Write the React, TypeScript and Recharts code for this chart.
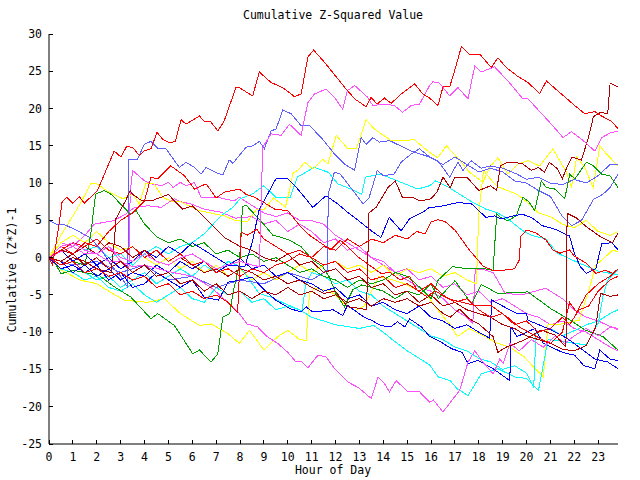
import React from 'react';
import { LineChart, Line, XAxis, YAxis } from 'recharts';

const RED = '#ff0000';
const DKRED = '#b00000';
const MAG = '#ff50ff';
const BLUE = '#0000ff';
const LTBLUE = '#6060ff';
const GREEN = '#00a000';
const YEL = '#ffff00';
const CYAN = '#00ffff';

const hourTicks = [0,1,2,3,4,5,6,7,8,9,10,11,12,13,14,15,16,17,18,19,20,21,22,23];
const valueTicks = [-25,-20,-15,-10,-5,0,5,10,15,20,25,30];
const hourDomain = [0, 23.83];
const valueDomain = [-25, 30];

type P = [number, number];

const redA: P[] = [[0,0],[0.15,-1],[0.35,3],[0.55,7.5],[0.75,8.1],[0.99,7.3],[1.27,8.2],[1.48,7.3],[2.03,9.0],[2.73,14.3],[3.01,13.5],[3.25,14.9],[3.5,14.8],[3.78,13.7],[3.99,14.3],[4.27,14.6],[4.52,16.8],[4.76,15.9],[5.04,15.4],[5.29,15.6],[5.53,18.5],[5.74,17.9],[6.3,19.0],[6.53,18.2],[6.78,18.2],[7.07,17.0],[7.32,18.2],[7.83,22.8],[7.97,22.8],[8.53,21.7],[8.81,24.9],[9.3,23.5],[9.79,22.8],[10.28,21.6],[10.56,21.95],[10.84,26.9],[11.08,27.85],[11.54,26.2],[12.38,22.85],[12.8,21.3],[13.28,20.25],[13.49,21.5],[13.74,20.6],[14.05,21.4],[14.33,20.7],[14.75,21.95],[15.31,23.3],[15.66,21.95],[15.94,21.4],[16.29,20.4],[16.5,22.9],[16.78,22.9],[16.99,25.1],[17.27,28.3],[17.62,27.2],[18.04,27.3],[18.52,25.5],[18.8,26.8],[19.15,25.5],[19.64,24.3],[20.06,23.5],[20.55,22.0],[20.83,23.7],[21.46,21.95],[22.02,20.4],[22.44,19.3],[22.86,19.6],[23.14,19.0],[23.56,18.3],[23.83,17.3]];

const magB: P[] = [[0,0],[0.5,1.5],[1,2],[1.5,1],[2,0.5],[2.5,1.5],[3,0],[3.5,-0.5],[4,0.5],[4.5,-0.5],[5,-1],[5.5,0],[6,0.5],[6.5,-0.5],[7,-1.5],[7.5,-1],[8,-0.5],[8.5,-1],[8.81,-1.2],[8.95,14.8],[9.3,16.6],[9.72,16.4],[10.07,17.9],[10.56,16.4],[10.84,20.8],[11.12,21.95],[11.6,22.6],[11.96,21.5],[12.3,19.9],[12.5,22.4],[12.8,23.1],[13.35,21.5],[13.56,20.4],[14.05,20.6],[14.47,20.4],[14.81,19.5],[15.17,20.4],[15.52,20.6],[15.94,23.1],[16.08,23.6],[16.36,23.4],[16.78,21.7],[17.13,22.8],[17.55,21.3],[17.83,25.7],[18.1,24.9],[18.66,25.6],[19.22,23.7],[19.85,21.3],[20.06,21.3],[21.04,17.9],[21.53,16.1],[21.88,16.9],[22.3,15.9],[22.86,14.3],[23.14,16.1],[23.49,16.7],[23.83,17.0]];

const ltC: P[] = [[0,5],[0.3,4.5],[0.6,4.5],[1.2,3.6],[1.7,2.7],[2.2,1],[2.6,-1],[3,-2.5],[3.3,-4],[3.33,13.2],[3.71,13.2],[3.99,15.2],[4.27,15.6],[4.55,14.7],[4.9,14.6],[5.46,12.1],[5.74,12.8],[6.09,12.1],[6.37,11.2],[6.58,12.1],[7.07,11.3],[7.28,11.1],[7.55,13.1],[7.7,12.65],[7.97,13.7],[8.25,14.8],[8.53,15.0],[8.81,15.6],[9.02,14.6],[9.3,17.0],[9.51,17.25],[9.79,19.8],[10.14,19.3],[10.56,17.7],[10.91,17.7],[11.4,16.1],[11.96,13.9],[12.38,12.55],[12.8,11.7],[13.07,16.1],[13.28,15.2],[13.56,16.1],[13.84,15.5],[14.26,15.7],[15.17,14.3],[15.94,13.5],[16.29,13.0],[16.78,10.8],[17.13,12.8],[17.34,11.7],[17.68,13.0],[18.1,12.0],[18.5,12.3],[19.0,12.0],[19.6,11.2],[20.0,10.5],[20.5,10.8],[21.0,10.0],[21.5,9.8],[22.0,10.5],[22.5,10.0],[23.0,11.0],[23.5,12.5],[23.83,12.5]];

const ltD: P[] = [[0,0],[1,-1],[2,-0.5],[3,-2],[4,-1],[5,-3],[6,-2.5],[7,-4],[8,-3],[9,-3.5],[10,-2],[11,-3],[11.65,-1.7],[11.7,8.6],[11.95,11.45],[12.2,11.2],[12.85,8.5],[13.15,7.2],[13.4,8],[13.75,11.7],[14.0,11.0],[14.45,11.2],[14.75,12.8],[15.17,13.9],[15.52,14.6],[15.94,13.5],[16.5,12.5],[17.0,13.5],[17.5,12.5],[18.0,11.5],[18.5,12],[19.0,11.5],[19.5,10.3],[20.0,10.0],[20.5,9.0],[21.0,8.2],[21.5,5.5],[21.9,4.3],[22.3,5.0],[22.8,7.8],[23.2,8.5],[23.5,9.4],[23.83,11.2]];

const yelE: P[] = [[0,0],[0.5,3],[1,5.6],[1.3,7.2],[1.75,9.9],[2.0,9.9],[2.5,8.8],[3.1,7.9],[3.5,8.5],[3.78,7.2],[4.05,9.9],[4.4,9.9],[4.76,8.1],[5.1,7.6],[5.5,7.5],[6.3,6.3],[7.35,5.6],[7.8,5.0],[8.3,4.8],[8.7,6.5],[9.0,6.4],[9.4,8.0],[9.9,6.8],[10.08,9.1],[10.22,11.3],[10.49,11.9],[10.7,12.8],[11.05,11.9],[11.47,13.2],[11.68,12.55],[12.03,16.4],[12.52,14.6],[12.87,14.6],[13.28,18.5],[13.63,17.25],[14.33,15.7],[15.31,15.8],[15.94,14.1],[16.28,13.4],[16.64,15.0],[17.27,12.8],[17.6,11.5],[18.17,10.1],[18.45,12.1],[18.8,13.4],[19.22,11.2],[19.64,12.55],[20.06,13.0],[20.55,12.3],[21.1,14.6],[21.67,11.45],[21.88,9.4],[22.1,13.5],[22.44,12.1],[22.79,9.4],[23.07,15.0],[23.35,13.9],[23.83,12.3]];

const magF: P[] = [[0,0],[0.5,0.8],[1,1.5],[1.5,0.5],[2,0.5],[2.5,-0.5],[3,-0.5],[3.5,-1.2],[4,-1],[4.6,-1.5],[5.2,-2],[6,-2.5],[6.75,-3.9],[7.48,-5.95],[7.97,-7.5],[8.3,-8.9],[8.74,-9.3],[9.16,-10.65],[9.58,-11.5],[10.0,-12.7],[10.35,-14.0],[10.56,-13.9],[10.84,-14.8],[11.26,-13.1],[11.6,-13.3],[11.96,-14.9],[12.52,-16.7],[12.94,-17.4],[13.5,-18.9],[13.78,-16.0],[14.05,-16.9],[14.26,-18.0],[14.54,-16.5],[15.03,-18.0],[15.52,-18.0],[15.94,-19.4],[16.1,-19.1],[16.5,-20.7],[17.2,-17.8],[17.55,-14.0],[17.83,-12.5],[18.17,-14.0],[18.6,-15.6],[18.88,-13.6],[19.02,-14.2],[19.3,-11.5],[19.7,-12.5],[20.2,-11.0],[20.7,-12],[21.2,-10.5],[21.6,-11.5],[22.0,-10.5],[22.5,-9.5],[23.0,-10.5],[23.5,-9.3],[23.83,-9.5]];

const grnG: P[] = [[0,0],[0.3,-1],[0.5,-2.15],[1.05,-1.7],[2.1,-2.4],[2.73,-3.9],[3.43,-5.3],[4.27,-8.2],[4.55,-7.5],[5.25,-9.1],[6.02,-12.9],[6.3,-12.4],[6.79,-14.0],[7.07,-12.9],[7.28,-8.0],[7.57,-7.5],[7.7,-4.8],[7.97,-1],[8.1,6.8],[8.25,7.05],[8.96,4.6],[9.38,3.0],[9.66,2.8],[10.07,2.35],[10.56,1.45],[11.04,-0.3],[11.46,-1.2],[11.74,-2.6],[12.02,-4.8],[12.37,-6.6],[12.73,-4.3],[13.1,-3.65],[13.5,-4],[14,-4.5],[14.5,-5.5],[15,-4.5],[15.5,-5],[16,-3.5],[16.3,-5.5],[17,-3.1],[17.7,-6.2],[18.1,-3.6],[18.8,-4.8],[20.06,-4.6],[21.04,-6.9],[21.74,-8.2],[22.44,-9.7],[23.2,-10.6],[23.83,-12.4]];

const grnJ: P[] = [[0,0],[0.5,-1],[1,-0.5],[1.5,-1],[1.75,3.2],[1.95,8.5],[2.3,9.0],[2.6,8.5],[3.0,7.2],[3.4,5.85],[3.65,6.3],[4.0,4.5],[4.55,2.7],[5,2],[5.5,2.5],[6,1.5],[6.5,2],[7,0.5],[7.5,1],[8,0],[8.5,0.5],[9,-0.5],[9.5,0],[10,-1],[10.5,-2],[11,-1.5],[11.5,-2.5],[12,-3],[12.5,-4],[13,-3],[13.5,-3.5],[14,-3],[14.5,-2],[15,-2.5],[15.5,-3.9],[16.0,-5.5],[16.3,-3.0],[16.9,-1.2],[17.5,-1.5],[18.1,-1.4],[18.6,-1.7],[18.75,5.85],[18.9,5.4],[19.22,4.95],[19.57,5.6],[19.85,8.1],[20.1,7.5],[20.34,6.3],[20.62,10.3],[20.83,9.4],[21.18,9.2],[21.6,7.9],[21.81,11.2],[22.02,10.55],[22.51,12.8],[22.8,12.3],[23.14,11.2],[23.49,11.0],[23.83,9.4]];

const drH: P[] = [[0,0],[0.5,1],[1,0.5],[1.5,1.5],[2,0.5],[2.5,2],[3,1.5],[3.5,0],[4,1],[4.5,-0.5],[5,-1],[5.5,0],[6,-1],[6.5,-2],[7,-1.5],[7.5,-2.5],[8,-1.5],[8.5,-2],[9,-3],[9.5,-2.5],[10,-3.5],[10.5,-3],[11,-4],[11.5,-4.8],[12,-4.5],[12.5,-6.6],[13,-6.8],[13.3,-7],[13.4,6],[13.7,6.75],[14.2,9.4],[14.5,10.3],[14.8,8.1],[15.2,8.1],[15.55,7.6],[16.0,7.9],[16.25,8.8],[16.5,10.8],[16.8,9.4],[17.0,10.8],[17.5,10.8],[18.0,9.0],[18.5,9.65],[18.75,9.0],[18.9,12.3],[19.2,12.8],[19.5,12.8],[19.85,12.55],[20.2,11.7],[20.5,12.1],[20.75,11.45],[20.95,12.8],[21.3,11.9],[21.5,10.6],[21.7,12.2],[21.9,13.5],[22.3,13.1],[22.6,16.2],[22.8,18.9],[23.1,19.5],[23.4,19.3],[23.5,23.4],[23.83,22.9]];

const drK: P[] = [[0,0],[0.5,-0.5],[1,0.5],[1.5,-1],[2,0],[2.5,-1.5],[3,-0.5],[3.5,-2],[4,-1],[4.5,-2.5],[5,-2],[5.5,-3.5],[6,-3],[6.5,-4.5],[7,-3.5],[7.5,-5],[8,-4.5],[8.5,-5.5],[9,-4.5],[9.5,-5],[10,-4],[10.5,-5],[11,-4.5],[11.5,-5.5],[12,-5],[12.5,-6],[13,-5.5],[13.5,-6.5],[14,-5.5],[14.5,-6],[15,-5.5],[15.5,-6.5],[16,-6],[16.5,-7.5],[16.8,-8.0],[17.2,-6.9],[17.6,-8.2],[18.0,-8.9],[18.6,-10.6],[18.8,-12.7],[19.15,-12.0],[19.57,-11.5],[20.0,-10.9],[20.6,-9.7],[21.2,-10.4],[21.65,-12.0],[21.7,5.95],[22.1,5.3],[22.5,4.15],[23.1,2.8],[23.6,2.0],[23.83,3.3]];

const drM: P[] = [[0,0],[0.5,-1],[1,0],[1.5,-0.5],[2,-1.5],[2.6,-2],[2.75,2.7],[2.8,5.2],[3.2,7.6],[3.4,9.0],[3.5,8.5],[3.9,7.6],[4.27,7.6],[4.7,8.1],[5.0,8.5],[5.25,7.6],[5.6,6.5],[6.0,6.95],[6.37,5.85],[6.65,4.95],[7.07,3.6],[7.35,2.7],[8,1.5],[8.5,1],[9,0],[9.5,-0.5],[10,0.5],[10.5,-1],[11,-0.5],[11.5,-2],[12,-1.5],[12.5,-3],[13,-2.5],[13.5,-4],[14,-3.5],[14.5,-5],[15,-4.5],[15.5,-6],[16,-5],[16.5,-6.5],[17,-6],[17.5,-7],[18,-7.5],[18.5,-8],[19,-9],[19.5,-9.5],[20,-10.5],[20.5,-11],[21,-11.5],[21.5,-12.3],[22,-12.5],[22.5,-11.8],[22.9,-9.3],[23.1,-4.8],[23.5,-5.2],[23.83,-5.0]];

const redN: P[] = [[0,0],[0.5,1.5],[1,0.5],[1.5,2],[2,1.5],[2.5,3.5],[3,5],[3.5,6],[4,7.6],[4.27,10.8],[4.55,10.55],[5.1,12.3],[5.67,11.0],[6.09,9.2],[6.58,9.9],[7.0,8.0],[7.35,8.8],[7.97,9.2],[8.25,8.5],[8.6,8.1],[9.0,7.4],[9.45,6.5],[10.0,6.3],[10.5,4.3],[10.84,3.2],[11.0,2.8],[11.8,1.05],[12.2,2.35],[12.5,1.5],[12.9,0.2],[13.5,-1.2],[13.9,-2.1],[14.3,-2.0],[14.7,-3.0],[15.1,-2.5],[15.4,-4.3],[15.8,-5.2],[16.2,-4.5],[16.7,-5.5],[17.3,-6.0],[17.8,-6.4],[18.5,-6.4],[19.2,-8.0],[19.7,-9.3],[20.2,-10.2],[20.6,-10.9],[21.0,-11.5],[21.5,-10],[21.8,-6],[22.1,-7.3],[22.5,-5],[23,-3.5],[23.5,-2.5],[23.83,-1.5]];

const redP: P[] = [[0,0],[0.5,-1],[1,-0.5],[1.5,-2],[2,-1.5],[2.5,-2.5],[3,-2],[3.5,-3],[4,-2.5],[4.5,-4],[5,-3.5],[5.5,-5],[6,-4.5],[6.5,-5.5],[7,-5],[7.5,-6],[7.9,-7.4],[8.05,3.4],[8.3,3.0],[8.7,3.8],[9.0,2.5],[9.5,1.5],[10,0.5],[10.5,1],[11,0],[11.5,-1],[12,-0.5],[12.5,-2],[13,-1.5],[13.5,-3],[14,-2.5],[14.5,-4],[15,-3.5],[15.5,-4.5],[16,-3.5],[16.5,-5],[17,-6],[17.5,-5.5],[18,-7],[18.5,-8],[19,-7.5],[19.5,-9],[20,-8.5],[20.5,-10],[21,-9.5],[21.5,-8],[21.8,-9],[22.2,-7],[22.6,-6.5],[23,-4.5],[23.5,-3],[23.83,-2.5]];

const redQ: P[] = [[0,0],[0.5,1],[1,2],[1.5,1.5],[2,2.5],[2.5,1],[3,0.5],[3.5,1.5],[4,0],[4.5,1],[5,-0.5],[5.5,0.5],[6,-1],[6.5,-0.5],[7,-2],[7.5,-1.5],[8,-2.5],[8.5,-1.5],[9,-2],[9.5,-1],[10,-0.5],[10.5,0.5],[11,0],[11.5,1.5],[12,1],[12.5,2.5],[13,1.5],[13.5,2.5],[14,2],[14.5,3],[15,2.5],[15.4,3.5],[15.75,3.2],[16.0,4.8],[16.3,5.1],[16.6,4.8],[17.0,3.7],[17.6,1.05],[18.2,-1.2],[18.6,-1.7],[19.0,-1.7],[19.5,-1.5],[19.7,-0.3],[19.75,2.8],[20.0,3.7],[20.4,3.3],[20.8,2.4],[21.1,1.05],[21.4,0.6],[21.8,1.05],[22.0,0.2],[22.5,-0.75],[22.9,-2.1],[23.3,-1.7],[23.6,-2.1],[23.83,-1.6]];

const bluR: P[] = [[0,0],[0.5,-1.5],[1,-1],[1.5,-2],[2,-1],[2.5,-3],[3,-2],[3.5,-4],[4,-3.5],[4.5,-2],[5,-3],[5.5,-4],[6,-3],[6.5,-5.3],[7.1,-5.7],[7.5,-3.3],[8,-3],[8.5,-2.6],[9.1,-4.6],[9.5,-5.7],[10.1,-6.85],[10.56,-7.3],[10.77,-6.6],[11.05,-7.3],[11.9,-7.0],[12.3,-7.75],[12.5,-6.4],[13.2,-8.0],[13.5,-8.4],[13.9,-9.1],[14.3,-9.3],[14.6,-8.6],[14.9,-9.3],[15.1,-8.2],[15.6,-9.3],[15.95,-10.6],[16.3,-11.1],[16.85,-12.2],[17.3,-12.7],[17.55,-14.2],[17.97,-13.8],[18.6,-14.9],[19.3,-16.5],[19.35,-9.3],[19.6,-10.6],[20.35,-9.5],[20.7,-11.5],[21.5,-12.7],[22.02,-13.1],[22.4,-14.5],[22.86,-14.9],[23.07,-12.4],[23.49,-13.6],[23.83,-13.8]];

const bluR2: P[] = [[0,0],[0.5,1],[1,-0.5],[1.5,0.5],[2,-1],[2.5,0],[3,-1.5],[3.5,-0.5],[4,1],[4.5,0],[5,1.5],[5.5,0.5],[6,2],[6.5,1],[7,0],[7.5,-1],[8,-0.1],[8.5,-1.5],[9,-1],[9.5,-2.5],[10,-2],[10.5,-3],[11,-3.5],[11.5,-4.5],[12,-4],[12.5,-5.5],[13,-5],[13.5,-6.5],[14,-6],[14.5,-7],[15,-7.5],[15.5,-6.5],[16,-8],[16.5,-8.5],[17,-9.5],[17.5,-9],[18,-10],[18.45,-10.8],[18.55,-5.7],[19.0,-6.5],[19.6,-7.5],[20.0,-7.5],[20.06,-8.4],[21.04,-9.7],[21.74,-10.9],[22.2,-12.0],[22.86,-13.6],[23.4,-14.0],[23.83,-14.9]];

const bluS: P[] = [[0,0],[0.5,-0.5],[1,-2],[1.5,-1],[2,-2.5],[2.5,-1.5],[3,-3],[3.5,-2],[4,-2.5],[4.5,-1],[5,-2],[5.5,-0.5],[6,-1.5],[6.5,-0.5],[7,-2],[7.5,-1],[8.2,-1.2],[8.5,1.9],[8.8,6.4],[9.5,10.55],[10.0,10.55],[10.3,9.65],[10.7,8.1],[11.05,6.75],[11.6,8.3],[12.1,7.2],[12.5,6.1],[12.95,5.0],[13.5,3.6],[13.9,2.7],[14.25,5.4],[14.75,3.6],[15.1,5.2],[15.66,6.1],[15.94,6.75],[16.1,6.75],[16.5,6.95],[17.13,7.4],[17.7,7.2],[18.3,5.4],[18.66,5.6],[18.94,5.2],[19.8,5.85],[20.2,5.4],[20.65,4.3],[21.2,3.8],[21.8,2.9],[22.0,0.6],[22.25,-1.2],[22.5,-2.1],[22.9,-1.5],[23.15,1.85],[23.57,2.0],[23.83,1.05]];

const cyaU: P[] = [[0,0],[0.5,-1],[1,-0.5],[1.5,-2],[2,-3],[2.5,-2.5],[3,-4],[3.5,-3],[4,-2],[4.5,-3.5],[5,-2.5],[5.5,-1.5],[6,-2.5],[6.5,-1],[7,-2],[7.5,-0.5],[8,-1.2],[8.8,-4.8],[9.3,-5.3],[9.9,-6.2],[10.5,-7],[11,-8],[11.5,-8.5],[12,-9],[13.0,-9.5],[13.6,-9.1],[14.0,-10],[14.5,-11.3],[15,-12.5],[15.5,-13.5],[15.94,-14.4],[16.3,-16.0],[16.8,-16.5],[17.1,-17.6],[17.55,-18.5],[18.1,-15.6],[18.8,-14.9],[19.5,-16],[20,-16.2],[20.5,-17.8],[20.9,-11.0],[21.5,-11.2],[22.0,-11.5],[22.5,-11.7],[23.0,-8.8],[23.2,-5.2],[23.4,-3.0],[23.83,-1.6]];

const cyaV: P[] = [[0,0],[0.5,1.5],[1,2],[1.5,1],[2,1.5],[2.5,0],[3,0.5],[3.5,-1],[4,0.5],[4.5,1.5],[5,0.5],[5.5,1.5],[6,2],[6.5,3.2],[7.2,5.6],[7.7,6.75],[8,7.9],[8.5,8.5],[9.0,9.65],[9.5,8.1],[10.1,8.1],[10.4,10.8],[11.1,12.1],[11.7,11.45],[12.1,9.9],[12.65,9.2],[13.1,8.5],[13.25,10.8],[13.9,11.2],[14.9,9.9],[15.45,9.2],[15.94,9.65],[16.2,10.3],[16.7,9.5],[17.2,8.5],[17.7,7.5],[18.3,6.5],[18.8,6.0],[19.3,5.0],[19.8,3.7],[20.2,3.0],[20.8,2.5],[21.3,0.6],[21.9,-0.3],[22.4,-1.0],[23.0,-1.8],[23.83,-2.3]];

const cyaW: P[] = [[0,0],[0.5,-1.5],[1,-2],[1.5,-3],[2,-2.5],[2.5,-4],[3,-4.5],[3.5,-3.5],[4,-5],[4.5,-6],[5,-5],[5.5,-4],[6,-5.5],[6.5,-6],[7,-4],[7.5,-5],[8,-4.5],[8.5,-6],[9,-5.5],[9.5,-7],[10,-6.5],[10.6,-7.1],[10.75,-3.6],[11,-2],[11.5,-2.5],[12,-3.5],[12.5,-3],[13,-4.5],[13.5,-5],[14,-6.5],[14.5,-7.5],[15,-8.5],[15.5,-9.5],[16,-10.5],[16.5,-11],[17,-12],[17.5,-12.5],[18,-13.5],[18.5,-14],[19,-15],[19.5,-14.5],[20,-15.5],[20.3,-17.4],[20.4,-10],[21,-9.5],[21.5,-10.5],[22,-9.8],[22.5,-9],[23,-8.5],[23.5,-7.5],[23.83,-7]];

const yelX: P[] = [[0,0],[0.5,-1.65],[1.3,-3.0],[2,-3.5],[2.5,-4.5],[3.15,-5.7],[4.13,-6.0],[4.83,-5.5],[5.5,-7.5],[6.3,-9.1],[6.8,-8.9],[7.5,-10.2],[7.97,-11.5],[8.4,-9.75],[9.0,-12.4],[9.58,-10.6],[10.0,-9.75],[10.5,-11],[10.77,-11.1],[10.91,-4.8],[11.13,-4.1],[11.8,-4.5],[12.3,-6],[12.8,-7.1],[13.2,-6.5],[13.8,-2.55],[14.4,-3],[14.9,-3.5],[15.5,-4.5],[15.94,-5.5],[16.3,-7.1],[16.8,-9],[17.1,-10.6],[17.6,-9.5],[18.2,-10.5],[18.8,-11.5],[19.3,-12],[19.9,-13.3],[20.3,-14.7],[20.7,-16.0],[20.9,-9.0],[21.3,-9.0],[22.2,-8.4],[22.6,-4.5],[22.9,-1.0],[23.3,0.1],[23.6,1.0],[23.83,0.8]];

const yelY: P[] = [[0,0],[0.5,2],[1,3],[1.5,2],[2,3.5],[2.5,2],[3,1],[3.5,1.5],[4,0],[4.5,-1],[5,0],[5.5,-1.5],[6,-0.5],[6.5,-2],[7,-1],[7.5,-2.5],[8,-1.5],[8.5,-3],[9,-2],[9.5,-3],[10,-2],[10.5,-1],[11,-2],[11.5,-1],[12,-0.5],[12.5,-1.5],[13,-1],[13.5,-2],[14,-1],[14.5,-2.5],[15,-1.5],[15.5,-2],[16,-1.5],[16.5,-2.5],[17,-2],[17.5,-3],[17.9,-3.5],[18.0,6],[18.2,11.7],[18.5,10.5],[18.8,9.5],[19.2,9],[19.6,8.5],[20,7.5],[20.5,6],[21,5.5],[21.5,4.5],[22,4],[22.5,5],[23,3.5],[23.5,3],[23.83,3.5]];

const magB1: P[] = [[0,0],[0.5,1],[1,2],[1.5,1],[2,0.5],[2.5,1.5],[3,-0.5],[3.35,-1.3],[3.4,8.7],[3.5,11.7],[4.0,10.3],[4.3,9.9],[4.7,9.65],[5.0,10.1],[5.2,9.4],[5.5,10.1],[5.74,9.65],[6.09,10.1],[6.37,8.1],[7.2,8.0],[7.76,7.6],[7.97,8.1],[8.5,7],[9,6],[9.5,5.5],[10,6],[10.5,5],[11.0,4.95],[11.5,4.5],[12,3],[12.5,2],[13,1],[13.5,0],[14,-1],[14.5,-2],[15,-3],[15.5,-4],[16,-4.5],[16.5,-5.5],[17,-7],[17.5,-8],[17.75,-8.8],[17.85,-1.6],[18.2,-1.6],[18.6,-2],[19.1,-4.8],[19.8,-5],[20.8,-4.1],[21.5,-5.5],[22,-7],[22.5,-8],[23,-8.5],[23.83,-9.7]];

const magB2: P[] = [[0,0],[0.5,2],[1,1.5],[1.5,3],[1.9,4.5],[2.7,4.95],[3.2,5.8],[3.6,6.75],[4.15,6.95],[4.7,6.75],[5.25,7.9],[5.5,7.5],[5.95,7.2],[6.5,6.5],[7.2,6.1],[7.8,5.3],[8.5,5.5],[9,4.5],[9.5,5],[10,3.5],[10.5,4.5],[11,3.5],[11.5,2],[12,2.5],[12.5,1],[13,1.5],[13.5,0],[14,-0.5],[14.5,-2],[15,-1.5],[15.5,-3],[16,-2.5],[16.5,-4],[17,-3.5],[17.5,-5],[18,-4.5],[18.5,-6],[19,-5.5],[19.5,-6.5],[20,-7.5],[20.5,-8],[21,-9],[21.5,-8.5],[22,-9.5],[22.5,-10],[23,-11],[23.5,-12],[23.83,-12.5]];

const seriesList: { key: string; color: string; pts: P[] }[] = [
  { key: 'magB2', color: MAG, pts: magB2 },
  { key: 'magB1', color: MAG, pts: magB1 },
  { key: 'yelY', color: YEL, pts: yelY },
  { key: 'yelX', color: YEL, pts: yelX },
  { key: 'cyaW', color: CYAN, pts: cyaW },
  { key: 'cyaV', color: CYAN, pts: cyaV },
  { key: 'cyaU', color: CYAN, pts: cyaU },
  { key: 'yelE', color: YEL, pts: yelE },
  { key: 'ltD', color: LTBLUE, pts: ltD },
  { key: 'ltC', color: LTBLUE, pts: ltC },
  { key: 'grnG', color: GREEN, pts: grnG },
  { key: 'grnJ', color: GREEN, pts: grnJ },
  { key: 'bluR2', color: BLUE, pts: bluR2 },
  { key: 'bluR', color: BLUE, pts: bluR },
  { key: 'bluS', color: BLUE, pts: bluS },
  { key: 'magF', color: MAG, pts: magF },
  { key: 'drM', color: DKRED, pts: drM },
  { key: 'drK', color: DKRED, pts: drK },
  { key: 'drH', color: DKRED, pts: drH },
  { key: 'redQ', color: RED, pts: redQ },
  { key: 'redP', color: RED, pts: redP },
  { key: 'redN', color: RED, pts: redN },
  { key: 'magB', color: MAG, pts: magB },
  { key: 'redA', color: RED, pts: redA },
];

const FONT = '"DejaVu Sans Mono", monospace';
const FS = 11.5;

const BottomTick = (props: any) => {
  const { x, y, payload } = props;
  return (
    <g>
      <line x1={x} y1={y} x2={x} y2={y - 4} stroke="#000" shapeRendering="crispEdges" />
      <text x={x} y={y + 17} textAnchor="middle" fontFamily={FONT} fontSize={FS} fill="#000">{payload.value}</text>
    </g>
  );
};
const TopTick = (props: any) => {
  const { x, y } = props;
  return <line x1={x} y1={y} x2={x} y2={y + 4} stroke="#000" shapeRendering="crispEdges" />;
};
const LeftTick = (props: any) => {
  const { x, y, payload } = props;
  return (
    <g>
      <line x1={x} y1={y} x2={x + 4} y2={y} stroke="#000" shapeRendering="crispEdges" />
      <text x={x - 7} y={y + 4} textAnchor="end" fontFamily={FONT} fontSize={FS} fill="#000">{payload.value}</text>
    </g>
  );
};
const RightTick = (props: any) => {
  const { x, y } = props;
  return <line x1={x} y1={y} x2={x - 4} y2={y} stroke="#000" shapeRendering="crispEdges" />;
};

export default function App() {
  const txt: React.CSSProperties = { position: 'absolute', fontFamily: FONT, fontSize: FS, color: '#000', whiteSpace: 'nowrap', lineHeight: '1' };
  return (
    <div style={{ position: 'absolute', left: 0, top: 0, width: 640, height: 480, background: '#fff' }}>
      <div style={{ ...txt, left: 333, top: 16, transform: 'translate(-50%, -50%)' }}>Cumulative Z-Squared Value</div>
      <div style={{ ...txt, left: 333, top: 471, transform: 'translate(-50%, -50%)' }}>Hour of Day</div>
      <div style={{ ...txt, left: 13, top: 270, transform: 'translate(-50%, -50%) rotate(-90deg)' }}>Cumulative (Z*Z)-1</div>
      <div style={{ position: 'absolute', left: 0, top: 0 }}>
        <LineChart width={640} height={480} margin={{ top: 34, right: 22, bottom: 0, left: 0 }}>
          <XAxis xAxisId="b" type="number" dataKey="h" orientation="bottom" domain={hourDomain} ticks={hourTicks}
            allowDataOverflow height={36} tickSize={0} tickMargin={0} tickLine={false} interval={0}
            axisLine={{ stroke: '#000' }} tick={<BottomTick />} />
          <XAxis xAxisId="t" type="number" orientation="top" domain={hourDomain} ticks={hourTicks}
            allowDataOverflow height={0} tickSize={0} tickMargin={0} tickLine={false} interval={0}
            axisLine={{ stroke: '#000' }} tick={<TopTick />} />
          <YAxis yAxisId="l" type="number" dataKey="v" orientation="left" domain={valueDomain} ticks={valueTicks}
            allowDataOverflow width={49} tickSize={0} tickMargin={0} tickLine={false} interval={0}
            axisLine={{ stroke: '#000' }} tick={<LeftTick />} />
          <YAxis yAxisId="r" type="number" orientation="right" domain={valueDomain} ticks={valueTicks}
            allowDataOverflow width={0} tickSize={0} tickMargin={0} tickLine={false} interval={0}
            axisLine={{ stroke: '#000' }} tick={<RightTick />} />
          {seriesList.map((s) => (
            <Line key={s.key} xAxisId="b" yAxisId="l" type="linear"
              data={s.pts.map(([h, v]) => ({ h, v }))} dataKey="v" stroke={s.color}
              strokeWidth={1} dot={false} activeDot={false} isAnimationActive={false}
              shapeRendering="crispEdges" />
          ))}
        </LineChart>
      </div>
    </div>
  );
}
